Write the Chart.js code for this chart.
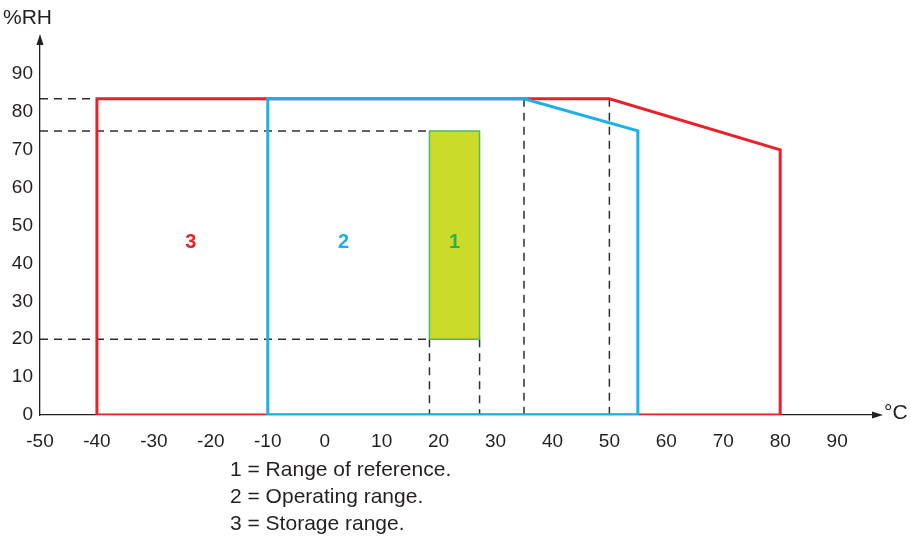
<!DOCTYPE html>
<html>
<head>
<meta charset="utf-8">
<script src="https://cdn.jsdelivr.net/npm/chart.js@4"></script>
<style>
  html, body { margin: 0; padding: 0; background: #fff; }
  #wrap { position: relative; width: 911px; height: 539px; font-family: "Liberation Sans", Arial, sans-serif; color: #231f20; }
  #chart { position: absolute; left: 0; top: 0; }
  .txt { position: absolute; font-size: 21px; line-height: 27px; white-space: nowrap; }
</style>
</head>
<body>
<div id="wrap">
  <canvas id="chart" width="911" height="539"></canvas>
  <div class="txt" style="left:3px; top:3px;">%RH</div>
  <div class="txt" style="left:884px; top:398px;">°C</div>
  <div class="txt" style="left:230px; top:455px;">1 = Range of reference.<br>2 = Operating range.<br>3 = Storage range.</div>
</div>
<script>
// axis ticks
const xTicks = [-50, -40, -30, -20, -10, 0, 10, 20, 30, 40, 50, 60, 70, 80, 90];
const yTicks = [0, 10, 20, 30, 40, 50, 60, 70, 80, 90];

// ranges (temperature °C, humidity %RH)
const storageX = [-40, -40, 50, 80, 80, -40];
const storageY = [0, 83.5, 83.5, 70, 0, 0];
const operatingX = [-10, -10, 35, 55, 55, -10];
const operatingY = [0, 83.5, 83.5, 75, 0, 0];
const referenceX = [18.4, 18.4, 27.2, 27.2, 18.4];
const referenceY = [20, 75, 75, 20, 20];

// dashed guide lines, each one a pair of points
const guideX = [[-50, -40], [-50, 18.4], [-50, 18.4], [18.4, 18.4], [27.2, 27.2], [35, 35], [50, 50]];
const guideY = [[83.5, 83.5], [75, 75], [20, 20], [20, 0], [20, 0], [83.5, 0], [83.5, 0]];

// zone numbers
const zoneNames = ['3', '2', '1'];
const zoneX = [-23.5, 3.3, 22.8];
const zoneY = [45.5, 45.5, 45.5];
const zoneColors = ['#e8212b', '#1cb0ea', '#2fae48'];

function toPoints(xs, ys) {
    return xs.map((x, i) => ({ x: x, y: ys[i] }));
}

// join guide segments into one dataset with gaps
const guidePoints = [];
guideX.forEach((seg, i) => {
    guidePoints.push({ x: seg[0], y: guideY[i][0] });
    guidePoints.push({ x: seg[1], y: guideY[i][1] });
    guidePoints.push({ x: seg[1], y: null });
});

const font = { family: '"Liberation Sans", Arial, sans-serif', size: 19 };

// arrows on the axes and the zone numbers
const decorPlugin = {
    id: 'decor',
    afterDraw(chart) {
        const ctx = chart.ctx;
        const a = chart.chartArea;
        ctx.save();
        ctx.fillStyle = '#231f20';
        // y arrow
        ctx.beginPath();
        ctx.moveTo(a.left, a.top - 6);
        ctx.lineTo(a.left - 3.5, a.top + 5);
        ctx.lineTo(a.left + 3.5, a.top + 5);
        ctx.closePath();
        ctx.fill();
        // x arrow
        ctx.beginPath();
        ctx.moveTo(a.right + 6, a.bottom);
        ctx.lineTo(a.right - 5, a.bottom - 3.5);
        ctx.lineTo(a.right - 5, a.bottom + 3.5);
        ctx.closePath();
        ctx.fill();

        const xs = chart.scales.x, ys = chart.scales.y;
        ctx.font = 'bold 20px "Liberation Sans", Arial, sans-serif';
        ctx.textAlign = 'center';
        ctx.textBaseline = 'middle';
        zoneNames.forEach((n, i) => {
            ctx.fillStyle = zoneColors[i];
            ctx.fillText(n, xs.getPixelForValue(zoneX[i]), ys.getPixelForValue(zoneY[i]));
        });
        ctx.restore();
    }
};

new Chart(document.getElementById('chart'), {
    type: 'line',
    data: {
        datasets: [
            {
                label: 'Range of reference',
                data: toPoints(referenceX, referenceY),
                borderColor: '#4cbb5a',
                backgroundColor: '#cbdb2a',
                borderWidth: 1.5,
                fill: 'shape',
                pointRadius: 0,
                tension: 0,
                order: 1
            },
            {
                label: 'Operating range',
                data: toPoints(operatingX, operatingY),
                borderColor: '#1cb0ea',
                borderWidth: 3,
                fill: false,
                pointRadius: 0,
                tension: 0,
                order: 2
            },
            {
                label: 'Storage range',
                data: toPoints(storageX, storageY),
                borderColor: '#e8212b',
                borderWidth: 3,
                fill: false,
                pointRadius: 0,
                tension: 0,
                order: 3
            },
            {
                label: 'guides',
                data: guidePoints,
                borderColor: '#2e2e2e',
                borderWidth: 1.5,
                borderDash: [8, 6],
                fill: false,
                pointRadius: 0,
                spanGaps: false,
                order: 4
            }
        ]
    },
    options: {
        responsive: false,
        animation: false,
        events: [],
        layout: { padding: { top: 40, right: 34, left: 0, bottom: 0 } },
        plugins: {
            legend: { display: false },
            tooltip: { enabled: false }
        },
        scales: {
            x: {
                type: 'linear',
                min: -50,
                max: 97,
                afterBuildTicks: scale => { scale.ticks = xTicks.map(v => ({ value: v })); },
                afterFit: scale => { scale.height = 124; },
                grid: { display: false, drawTicks: false, tickLength: 0 },
                border: { display: true, color: '#231f20', width: 1.3 },
                ticks: { color: '#231f20', font: font, padding: 15, maxRotation: 0, autoSkip: false }
            },
            y: {
                type: 'linear',
                min: 0,
                max: 99,
                afterBuildTicks: scale => { scale.ticks = yTicks.map(v => ({ value: v })); },
                afterFit: scale => { scale.width = 40; },
                grid: { display: false, drawTicks: false, tickLength: 0 },
                border: { display: true, color: '#231f20', width: 1.3 },
                ticks: { color: '#231f20', font: font, padding: 7, autoSkip: false }
            }
        }
    },
    plugins: [decorPlugin]
});
</script>
</body>
</html>
